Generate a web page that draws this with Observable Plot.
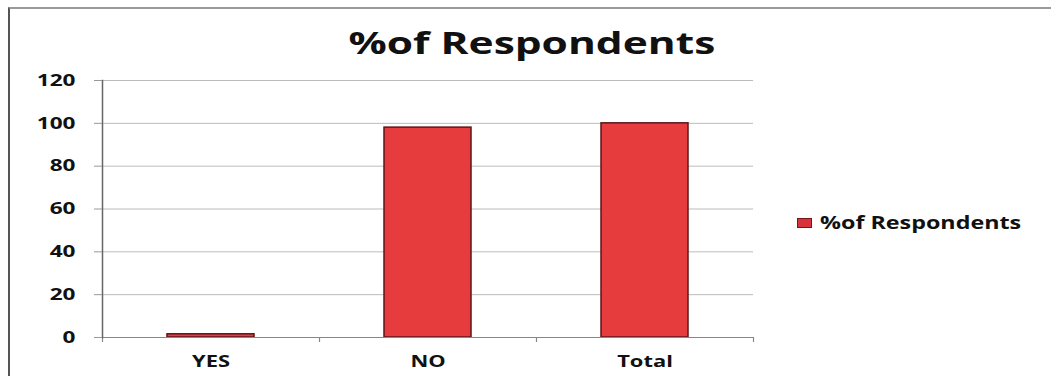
<!DOCTYPE html>
<html>
<head>
<meta charset="utf-8">
<script src="https://cdn.jsdelivr.net/npm/d3@7"></script>
<script src="https://cdn.jsdelivr.net/npm/@observablehq/plot@0.6"></script>
<style>
  html, body { margin: 0; padding: 0; background: #fff; }
  #frame { position: relative; width: 1051px; height: 376px; overflow: hidden; background: #fff; font-family: "Open Sans", sans-serif; }
  #border { position: absolute; left: 8px; top: 7px; width: 1060px; height: 400px; border-left: 2px solid #555; border-top: 2px solid #999; }
  #title { position: absolute; left: 0; width: 1064px; top: 22px; text-align: center; font-weight: 700; font-size: 31px; color: #111; line-height: 40px; }
  #title span { display: inline-block; transform: scaleX(1.37); transform-origin: center; }
  #chart { position: absolute; left: 0; top: 60px; }
  #legend { position: absolute; left: 797px; top: 211px; display: flex; align-items: center; font-weight: 700; font-size: 17px; color: #111; }
  #legend .sw { width: 13px; height: 8px; background: #d8333b; border: 1.5px solid #7a1418; margin-right: 8px; }
  #legend .lt { display: inline-block; transform: scaleX(1.37); transform-origin: left center; }
</style>
</head>
<body>
<div id="frame">
  <div id="border"></div>
  <div id="title"><span>%of Respondents</span></div>
  <div id="chart"></div>
  <div id="legend"><span class="sw"></span><span class="lt">%of Respondents</span></div>
</div>
<script>
const categories = ["YES", "NO", "Total"];
const values = [1.5, 98, 100];
const yTicks = [0, 20, 40, 60, 80, 100, 120];

const data = categories.map((c, i) => ({category: c, value: values[i]}));

const W = 770, ML = 102, MR = 17, PI = 0.6, PO = 0.3;
const step = (W - ML - MR) / (categories.length - PI + 2 * PO);

const chart = Plot.plot({
  width: W,
  height: 312,
  marginLeft: ML,
  marginRight: MR,
  marginTop: 20,
  marginBottom: 35,
  style: {fontFamily: "Open Sans, sans-serif", fontSize: "16.5px", fontWeight: 700, color: "#111", background: "transparent"},
  x: {domain: categories, paddingInner: PI, paddingOuter: PO, label: null},
  y: {domain: [0, 120], ticks: yTicks, label: null},
  marks: [
    Plot.gridY(yTicks, {stroke: "#bbb", strokeOpacity: 1, strokeWidth: 1}),
    Plot.barY(data, {x: "category", y: "value", fill: "#e63c3e", stroke: "#5e1518", strokeWidth: 1.5}),
    Plot.ruleY([0], {stroke: "#888", strokeWidth: 1.2}),
    // category boundary ticks below the axis
    Plot.ruleX(categories, {x: (d) => d, y1: 0, y2: 0, insetBottom: -5, dx: -step / 2, stroke: "#888", strokeWidth: 1.2}),
    Plot.ruleX(categories.slice(-1), {x: (d) => d, y1: 0, y2: 0, insetBottom: -5, dx: step / 2, stroke: "#888", strokeWidth: 1.2}),
    Plot.frame({anchor: "left", stroke: "#666", strokeWidth: 1.5}),
    Plot.axisY(yTicks, {tickSize: 8, tickPadding: 19, stroke: "#999", fill: "#111", fontWeight: 700, fontSize: 16.5}),
    Plot.axisX({tickSize: 0, tickPadding: 18, fill: "#111", fontWeight: 700, fontSize: 16})
  ]
});
document.getElementById("chart").appendChild(chart);

// widen glyphs horizontally around each label's anchor to match the reference's stretched lettering
const sx = 1.37;
chart.querySelectorAll("text").forEach((t) => {
  const b = t.getBBox();
  const holder = t.closest("[text-anchor]");
  const anchor = t.getAttribute("text-anchor") || (holder && holder.getAttribute("text-anchor")) || "start";
  const ax = anchor === "end" ? b.x + b.width : anchor === "middle" ? b.x + b.width / 2 : b.x;
  const prev = t.getAttribute("transform") || "";
  t.setAttribute("transform", `${prev} translate(${ax},0) scale(${sx},1) translate(${-ax},0)`);
});
</script>
</body>
</html>
